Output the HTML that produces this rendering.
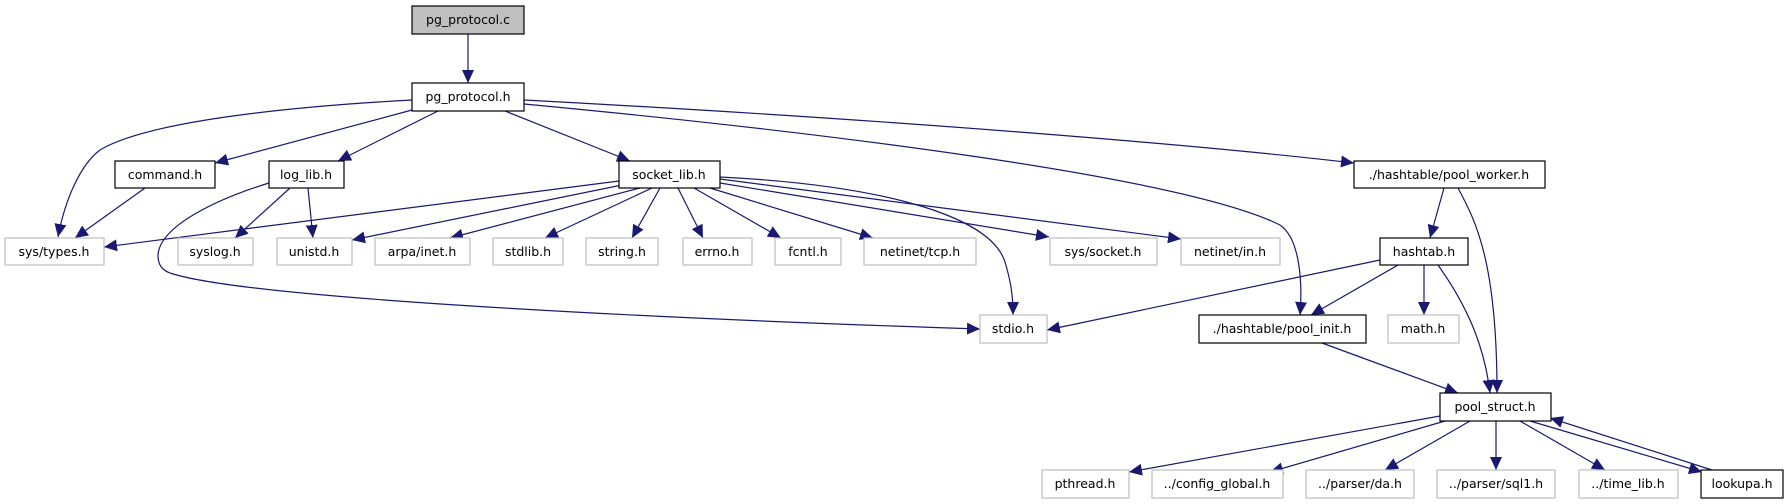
<!DOCTYPE html>
<html><head><meta charset="utf-8"><style>
html,body{margin:0;padding:0;background:#fff;}
svg{display:block;}
text{font-family:"DejaVu Sans","Liberation Sans",sans-serif;font-size:12.5px;fill:#000;text-anchor:middle;}
.e{fill:none;stroke:#191970;stroke-width:1.2;}
.b{fill:#fff;stroke:#000;stroke-width:1.2;}
.g{fill:#fff;stroke:#bfbfbf;stroke-width:1.2;}
</style></head><body>
<svg width="1789" height="504" viewBox="0 0 1789 504" xmlns="http://www.w3.org/2000/svg">
<defs><marker id="a" markerUnits="userSpaceOnUse" markerWidth="14" markerHeight="12" refX="13" refY="6" orient="auto"><path d="M0,0 L13,6 L0,12 z" fill="#191970"/></marker></defs>
<g marker-end="url(#a)">
<path class="e" d="M468,34 L468,83"/>
<path class="e" d="M412,100 C300,106 150,120 100,150 C80,165 65,200 58,237"/>
<path class="e" d="M412,110 L215,163"/>
<path class="e" d="M438,111 L338,161"/>
<path class="e" d="M505,111 L630,161"/>
<path class="e" d="M524,104 C800,130 1180,175 1280,225 C1302,240 1302,290 1300,315"/>
<path class="e" d="M524,100 C900,120 1200,145 1354,163"/>
<path class="e" d="M145,188 L75,238"/>
<path class="e" d="M290,188 L235,238"/>
<path class="e" d="M308,188 L313,238"/>
<path class="e" d="M269,183 C220,198 160,225 158,255 C158,265 162,270 170,273 C250,300 700,320 980,329"/>
<path class="e" d="M619,181 L104,247"/>
<path class="e" d="M622,185 L352,240"/>
<path class="e" d="M640,188 L450,238"/>
<path class="e" d="M652,188 L545,238"/>
<path class="e" d="M660,188 L632,238"/>
<path class="e" d="M678,188 L703,238"/>
<path class="e" d="M694,188 L781,238"/>
<path class="e" d="M710,188 L873,238"/>
<path class="e" d="M720,183 L1049,237"/>
<path class="e" d="M720,179 L1181,239"/>
<path class="e" d="M720,177 C880,185 990,215 1005,262 C1012,285 1013,300 1013,315"/>
<path class="e" d="M1444,188 L1430,238"/>
<path class="e" d="M1458,188 C1475,220 1497,260 1497,393"/>
<path class="e" d="M1380,260 L1047,330"/>
<path class="e" d="M1398,265 L1311,315"/>
<path class="e" d="M1424,265 L1424,315"/>
<path class="e" d="M1438,265 C1470,310 1485,350 1490,393"/>
<path class="e" d="M1322,343 L1458,393"/>
<path class="e" d="M1440,416 L1129,472"/>
<path class="e" d="M1445,421 L1270,472"/>
<path class="e" d="M1470,421 L1385,470"/>
<path class="e" d="M1496,421 L1496,470"/>
<path class="e" d="M1520,421 L1605,470"/>
<path class="e" d="M1530,421 L1702,472"/>
<path class="e" d="M1712,470 L1550,418"/>
</g>
<rect x="412" y="6" width="112" height="28" fill="#bfbfbf" stroke="#000" stroke-width="1.2"/><text x="468" y="24">pg_protocol.c</text>
<rect class="b" x="412" y="83" width="112" height="28"/><text x="468" y="101">pg_protocol.h</text>
<rect class="b" x="115" y="161" width="100" height="27"/><text x="165" y="179">command.h</text>
<rect class="b" x="269" y="161" width="75" height="27"/><text x="306" y="179">log_lib.h</text>
<rect class="b" x="619" y="161" width="101" height="27"/><text x="669" y="179">socket_lib.h</text>
<rect class="b" x="1354" y="161" width="191" height="27"/><text x="1449" y="179">./hashtable/pool_worker.h</text>
<rect class="g" x="5" y="238" width="99" height="27"/><text x="54" y="256">sys/types.h</text>
<rect class="g" x="178" y="238" width="75" height="27"/><text x="215" y="256">syslog.h</text>
<rect class="g" x="277" y="238" width="75" height="27"/><text x="314" y="256">unistd.h</text>
<rect class="g" x="375" y="238" width="95" height="27"/><text x="422" y="256">arpa/inet.h</text>
<rect class="g" x="493" y="238" width="70" height="27"/><text x="528" y="256">stdlib.h</text>
<rect class="g" x="586" y="238" width="72" height="27"/><text x="622" y="256">string.h</text>
<rect class="g" x="683" y="238" width="69" height="27"/><text x="717" y="256">errno.h</text>
<rect class="g" x="775" y="238" width="66" height="27"/><text x="808" y="256">fcntl.h</text>
<rect class="g" x="864" y="238" width="112" height="27"/><text x="920" y="256">netinet/tcp.h</text>
<rect class="g" x="1050" y="238" width="107" height="27"/><text x="1103" y="256">sys/socket.h</text>
<rect class="g" x="1181" y="238" width="99" height="27"/><text x="1230" y="256">netinet/in.h</text>
<rect class="b" x="1380" y="238" width="88" height="27"/><text x="1424" y="256">hashtab.h</text>
<rect class="g" x="980" y="315" width="67" height="28"/><text x="1013" y="333">stdio.h</text>
<rect class="b" x="1199" y="315" width="167" height="28"/><text x="1282" y="333">./hashtable/pool_init.h</text>
<rect class="g" x="1388" y="315" width="71" height="28"/><text x="1423" y="333">math.h</text>
<rect class="b" x="1440" y="393" width="111" height="28"/><text x="1495" y="411">pool_struct.h</text>
<rect class="g" x="1042" y="470" width="87" height="28"/><text x="1085" y="488">pthread.h</text>
<rect class="g" x="1152" y="470" width="131" height="28"/><text x="1217" y="488">../config_global.h</text>
<rect class="g" x="1306" y="470" width="108" height="28"/><text x="1360" y="488">../parser/da.h</text>
<rect class="g" x="1437" y="470" width="118" height="28"/><text x="1496" y="488">../parser/sql1.h</text>
<rect class="g" x="1579" y="470" width="99" height="28"/><text x="1628" y="488">../time_lib.h</text>
<rect class="b" x="1701" y="470" width="82" height="28"/><text x="1742" y="488">lookupa.h</text>
</svg>
</body></html>
